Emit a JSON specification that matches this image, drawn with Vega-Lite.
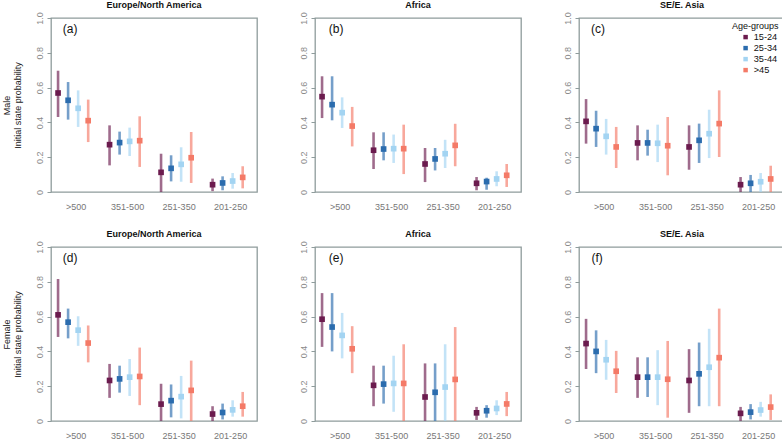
{
  "$schema": "https://vega.github.io/schema/vega-lite/v6.json",
  "padding": {"left": 1, "top": 0, "right": 0, "bottom": 0},
  "config": {
    "font": "Liberation Sans",
    "view": {"stroke": "#8f9c9c", "strokeWidth": 1.3},
    "title": {"fontSize": 9, "fontWeight": "bold", "color": "#111", "offset": 2},
    "axisY": {
      "values": [0, 0.2, 0.4, 0.6, 0.8, 1],
      "labelExpr": "datum.value == 0 ? '0' : format(datum.value, '.1f')",
      "labelAngle": -90, "labelAlign": "center", "labelBaseline": "bottom",
      "labelColor": "#8a8a8a", "labelFontSize": 9, "labelPadding": 3,
      "tickSize": 4, "tickColor": "#8f9c9c", "domain": false, "grid": false,
      "titleFontSize": 9, "titleFontWeight": "normal", "titleColor": "#222", "titlePadding": 13
    },
    "axisX": {
      "ticks": false, "tickSize": 0, "domain": false, "grid": false, "labelAngle": 0,
      "labelColor": "#777", "labelFontSize": 9, "labelPadding": 10, "labelOffset": 3, "title": null
    },
    "legend": {
      "orient": "none", "legendX": 681, "legendY": 4,
      "titleFontSize": 9, "titleFontWeight": "normal", "titleColor": "#111", "titlePadding": 1.5,
      "labelFontSize": 9.2, "labelColor": "#111", "symbolType": "square", "symbolSize": 20,
      "symbolOpacity": 1, "symbolStrokeWidth": 0, "rowPadding": 1, "labelOffset": 3.5, "symbolOffset": 9
    }
  },
  "datasets": {
    "est": [
      {"sex":"Male","region":"Europe/North America","cd4":">500","age":"15-24","p":0.569,"lo":0.431,"hi":0.697},
      {"sex":"Male","region":"Europe/North America","cd4":">500","age":"25-34","p":0.527,"lo":0.416,"hi":0.632},
      {"sex":"Male","region":"Europe/North America","cd4":">500","age":"35-44","p":0.481,"lo":0.374,"hi":0.584},
      {"sex":"Male","region":"Europe/North America","cd4":">500","age":">45","p":0.41,"lo":0.287,"hi":0.531},
      {"sex":"Male","region":"Europe/North America","cd4":"351-500","age":"15-24","p":0.272,"lo":0.153,"hi":0.383},
      {"sex":"Male","region":"Europe/North America","cd4":"351-500","age":"25-34","p":0.284,"lo":0.215,"hi":0.347},
      {"sex":"Male","region":"Europe/North America","cd4":"351-500","age":"35-44","p":0.291,"lo":0.207,"hi":0.37},
      {"sex":"Male","region":"Europe/North America","cd4":"351-500","age":">45","p":0.295,"lo":0.144,"hi":0.435},
      {"sex":"Male","region":"Europe/North America","cd4":"251-350","age":"15-24","p":0.113,"lo":0.0,"hi":0.22},
      {"sex":"Male","region":"Europe/North America","cd4":"251-350","age":"25-34","p":0.136,"lo":0.061,"hi":0.211},
      {"sex":"Male","region":"Europe/North America","cd4":"251-350","age":"35-44","p":0.159,"lo":0.059,"hi":0.257},
      {"sex":"Male","region":"Europe/North America","cd4":"251-350","age":">45","p":0.197,"lo":0.052,"hi":0.345},
      {"sex":"Male","region":"Europe/North America","cd4":"201-250","age":"15-24","p":0.042,"lo":0.005,"hi":0.077},
      {"sex":"Male","region":"Europe/North America","cd4":"201-250","age":"25-34","p":0.052,"lo":0.01,"hi":0.09},
      {"sex":"Male","region":"Europe/North America","cd4":"201-250","age":"35-44","p":0.063,"lo":0.019,"hi":0.109},
      {"sex":"Male","region":"Europe/North America","cd4":"201-250","age":">45","p":0.084,"lo":0.021,"hi":0.148},

      {"sex":"Male","region":"Africa","cd4":">500","age":"15-24","p":0.548,"lo":0.425,"hi":0.665},
      {"sex":"Male","region":"Africa","cd4":">500","age":"25-34","p":0.502,"lo":0.412,"hi":0.665},
      {"sex":"Male","region":"Africa","cd4":">500","age":"35-44","p":0.456,"lo":0.368,"hi":0.544},
      {"sex":"Male","region":"Africa","cd4":">500","age":">45","p":0.379,"lo":0.262,"hi":0.489},
      {"sex":"Male","region":"Africa","cd4":"351-500","age":"15-24","p":0.24,"lo":0.132,"hi":0.343},
      {"sex":"Male","region":"Africa","cd4":"351-500","age":"25-34","p":0.247,"lo":0.182,"hi":0.343},
      {"sex":"Male","region":"Africa","cd4":"351-500","age":"35-44","p":0.249,"lo":0.167,"hi":0.33},
      {"sex":"Male","region":"Africa","cd4":"351-500","age":">45","p":0.249,"lo":0.103,"hi":0.387},
      {"sex":"Male","region":"Africa","cd4":"251-350","age":"15-24","p":0.161,"lo":0.057,"hi":0.253},
      {"sex":"Male","region":"Africa","cd4":"251-350","age":"25-34","p":0.19,"lo":0.124,"hi":0.253},
      {"sex":"Male","region":"Africa","cd4":"251-350","age":"35-44","p":0.22,"lo":0.138,"hi":0.3},
      {"sex":"Male","region":"Africa","cd4":"251-350","age":">45","p":0.268,"lo":0.148,"hi":0.392},
      {"sex":"Male","region":"Africa","cd4":"201-250","age":"15-24","p":0.05,"lo":0.01,"hi":0.086},
      {"sex":"Male","region":"Africa","cd4":"201-250","age":"25-34","p":0.06,"lo":0.013,"hi":0.082},
      {"sex":"Male","region":"Africa","cd4":"201-250","age":"35-44","p":0.075,"lo":0.033,"hi":0.119},
      {"sex":"Male","region":"Africa","cd4":"201-250","age":">45","p":0.096,"lo":0.029,"hi":0.161},

      {"sex":"Male","region":"SE/E. Asia","cd4":">500","age":"15-24","p":0.406,"lo":0.278,"hi":0.534},
      {"sex":"Male","region":"SE/E. Asia","cd4":">500","age":"25-34","p":0.364,"lo":0.259,"hi":0.467},
      {"sex":"Male","region":"SE/E. Asia","cd4":">500","age":"35-44","p":0.32,"lo":0.215,"hi":0.42},
      {"sex":"Male","region":"SE/E. Asia","cd4":">500","age":">45","p":0.259,"lo":0.138,"hi":0.374},
      {"sex":"Male","region":"SE/E. Asia","cd4":"351-500","age":"15-24","p":0.282,"lo":0.182,"hi":0.383},
      {"sex":"Male","region":"SE/E. Asia","cd4":"351-500","age":"25-34","p":0.282,"lo":0.209,"hi":0.358},
      {"sex":"Male","region":"SE/E. Asia","cd4":"351-500","age":"35-44","p":0.28,"lo":0.172,"hi":0.387},
      {"sex":"Male","region":"SE/E. Asia","cd4":"351-500","age":">45","p":0.266,"lo":0.096,"hi":0.431},
      {"sex":"Male","region":"SE/E. Asia","cd4":"251-350","age":"15-24","p":0.259,"lo":0.128,"hi":0.383},
      {"sex":"Male","region":"SE/E. Asia","cd4":"251-350","age":"25-34","p":0.297,"lo":0.167,"hi":0.393},
      {"sex":"Male","region":"SE/E. Asia","cd4":"251-350","age":"35-44","p":0.335,"lo":0.195,"hi":0.473},
      {"sex":"Male","region":"SE/E. Asia","cd4":"251-350","age":">45","p":0.393,"lo":0.201,"hi":0.584},
      {"sex":"Male","region":"SE/E. Asia","cd4":"201-250","age":"15-24","p":0.042,"lo":0.0,"hi":0.086},
      {"sex":"Male","region":"SE/E. Asia","cd4":"201-250","age":"25-34","p":0.05,"lo":0.0,"hi":0.098},
      {"sex":"Male","region":"SE/E. Asia","cd4":"201-250","age":"35-44","p":0.059,"lo":0.0,"hi":0.109},
      {"sex":"Male","region":"SE/E. Asia","cd4":"201-250","age":">45","p":0.075,"lo":0.0,"hi":0.151},

      {"sex":"Female","region":"Europe/North America","cd4":">500","age":"15-24","p":0.61,"lo":0.483,"hi":0.816},
      {"sex":"Female","region":"Europe/North America","cd4":">500","age":"25-34","p":0.568,"lo":0.475,"hi":0.646},
      {"sex":"Female","region":"Europe/North America","cd4":">500","age":"35-44","p":0.522,"lo":0.432,"hi":0.602},
      {"sex":"Female","region":"Europe/North America","cd4":">500","age":">45","p":0.448,"lo":0.337,"hi":0.549},
      {"sex":"Female","region":"Europe/North America","cd4":"351-500","age":"15-24","p":0.233,"lo":0.133,"hi":0.328},
      {"sex":"Female","region":"Europe/North America","cd4":"351-500","age":"25-34","p":0.242,"lo":0.163,"hi":0.318},
      {"sex":"Female","region":"Europe/North America","cd4":"351-500","age":"35-44","p":0.252,"lo":0.144,"hi":0.356},
      {"sex":"Female","region":"Europe/North America","cd4":"351-500","age":">45","p":0.256,"lo":0.091,"hi":0.422},
      {"sex":"Female","region":"Europe/North America","cd4":"251-350","age":"15-24","p":0.097,"lo":0.0,"hi":0.214},
      {"sex":"Female","region":"Europe/North America","cd4":"251-350","age":"25-34","p":0.117,"lo":0.021,"hi":0.21},
      {"sex":"Female","region":"Europe/North America","cd4":"251-350","age":"35-44","p":0.14,"lo":0.015,"hi":0.259},
      {"sex":"Female","region":"Europe/North America","cd4":"251-350","age":">45","p":0.176,"lo":0.0,"hi":0.347},
      {"sex":"Female","region":"Europe/North America","cd4":"201-250","age":"15-24","p":0.04,"lo":0.0,"hi":0.085},
      {"sex":"Female","region":"Europe/North America","cd4":"201-250","age":"25-34","p":0.049,"lo":0.009,"hi":0.1},
      {"sex":"Female","region":"Europe/North America","cd4":"201-250","age":"35-44","p":0.064,"lo":0.025,"hi":0.119},
      {"sex":"Female","region":"Europe/North America","cd4":"201-250","age":">45","p":0.085,"lo":0.025,"hi":0.167},

      {"sex":"Female","region":"Africa","cd4":">500","age":"15-24","p":0.585,"lo":0.426,"hi":0.735},
      {"sex":"Female","region":"Africa","cd4":">500","age":"25-34","p":0.54,"lo":0.4,"hi":0.735},
      {"sex":"Female","region":"Africa","cd4":">500","age":"35-44","p":0.492,"lo":0.36,"hi":0.621},
      {"sex":"Female","region":"Africa","cd4":">500","age":">45","p":0.415,"lo":0.275,"hi":0.545},
      {"sex":"Female","region":"Africa","cd4":"351-500","age":"15-24","p":0.205,"lo":0.085,"hi":0.318},
      {"sex":"Female","region":"Africa","cd4":"351-500","age":"25-34","p":0.212,"lo":0.1,"hi":0.318},
      {"sex":"Female","region":"Africa","cd4":"351-500","age":"35-44","p":0.216,"lo":0.053,"hi":0.375},
      {"sex":"Female","region":"Africa","cd4":"351-500","age":">45","p":0.216,"lo":0.0,"hi":0.441},
      {"sex":"Female","region":"Africa","cd4":"251-350","age":"15-24","p":0.138,"lo":0.0,"hi":0.331},
      {"sex":"Female","region":"Africa","cd4":"251-350","age":"25-34","p":0.165,"lo":0.0,"hi":0.331},
      {"sex":"Female","region":"Africa","cd4":"251-350","age":"35-44","p":0.195,"lo":0.0,"hi":0.441},
      {"sex":"Female","region":"Africa","cd4":"251-350","age":">45","p":0.239,"lo":0.0,"hi":0.54},
      {"sex":"Female","region":"Africa","cd4":"201-250","age":"15-24","p":0.047,"lo":0.006,"hi":0.081},
      {"sex":"Female","region":"Africa","cd4":"201-250","age":"25-34","p":0.059,"lo":0.019,"hi":0.091},
      {"sex":"Female","region":"Africa","cd4":"201-250","age":"35-44","p":0.072,"lo":0.034,"hi":0.119},
      {"sex":"Female","region":"Africa","cd4":"201-250","age":">45","p":0.098,"lo":0.028,"hi":0.167},

      {"sex":"Female","region":"SE/E. Asia","cd4":">500","age":"15-24","p":0.445,"lo":0.299,"hi":0.587},
      {"sex":"Female","region":"SE/E. Asia","cd4":">500","age":"25-34","p":0.4,"lo":0.275,"hi":0.521},
      {"sex":"Female","region":"SE/E. Asia","cd4":">500","age":"35-44","p":0.352,"lo":0.237,"hi":0.466},
      {"sex":"Female","region":"SE/E. Asia","cd4":">500","age":">45","p":0.286,"lo":0.161,"hi":0.403},
      {"sex":"Female","region":"SE/E. Asia","cd4":"351-500","age":"15-24","p":0.252,"lo":0.133,"hi":0.366},
      {"sex":"Female","region":"SE/E. Asia","cd4":"351-500","age":"25-34","p":0.252,"lo":0.138,"hi":0.366},
      {"sex":"Female","region":"SE/E. Asia","cd4":"351-500","age":"35-44","p":0.252,"lo":0.091,"hi":0.407},
      {"sex":"Female","region":"SE/E. Asia","cd4":"351-500","age":">45","p":0.24,"lo":0.019,"hi":0.46},
      {"sex":"Female","region":"SE/E. Asia","cd4":"251-350","age":"15-24","p":0.233,"lo":0.047,"hi":0.413},
      {"sex":"Female","region":"SE/E. Asia","cd4":"251-350","age":"25-34","p":0.271,"lo":0.085,"hi":0.451},
      {"sex":"Female","region":"SE/E. Asia","cd4":"251-350","age":"35-44","p":0.309,"lo":0.085,"hi":0.53},
      {"sex":"Female","region":"SE/E. Asia","cd4":"251-350","age":">45","p":0.364,"lo":0.085,"hi":0.646},
      {"sex":"Female","region":"SE/E. Asia","cd4":"201-250","age":"15-24","p":0.044,"lo":0.0,"hi":0.081},
      {"sex":"Female","region":"SE/E. Asia","cd4":"201-250","age":"25-34","p":0.051,"lo":0.009,"hi":0.097},
      {"sex":"Female","region":"SE/E. Asia","cd4":"201-250","age":"35-44","p":0.063,"lo":0.025,"hi":0.11},
      {"sex":"Female","region":"SE/E. Asia","cd4":"201-250","age":">45","p":0.08,"lo":0.006,"hi":0.153}
    ],
    "panels": [
      {"sex":"Male","region":"Europe/North America","label":"(a)"},
      {"sex":"Male","region":"Africa","label":"(b)"},
      {"sex":"Male","region":"SE/E. Asia","label":"(c)"},
      {"sex":"Female","region":"Europe/North America","label":"(d)"},
      {"sex":"Female","region":"Africa","label":"(e)"},
      {"sex":"Female","region":"SE/E. Asia","label":"(f)"}
    ]
  },
  "spacing": 17,
  "vconcat": [
    {
      "spacing": 40,
      "hconcat": [
        {
          "width": 206, "height": 174, "title": "Europe/North America",
          "layer": [
            {"data": {"name": "est"}, "transform": [{"filter": "datum.sex == 'Male' && datum.region == 'Europe/North America'"}],
             "mark": {"type": "rule", "strokeWidth": 2.6, "opacity": 0.65},
             "encoding": {
               "x": {"field": "cd4", "type": "nominal", "sort": [">500","351-500","251-350","201-250"], "scale": {"paddingInner": 0.22, "paddingOuter": 0.11, "align": 0.18}},
               "xOffset": {"field": "age", "type": "nominal", "sort": ["15-24","25-34","35-44",">45"], "scale": {"paddingInner": 0, "paddingOuter": 0}},
               "y": {"field": "lo", "type": "quantitative", "scale": {"domain": [0, 1], "nice": false, "zero": false}, "title": ["Male", "Initial state probability"]},
               "y2": {"field": "hi"},
               "color": {"field": "age", "type": "nominal", "sort": ["15-24","25-34","35-44",">45"], "scale": {"domain": ["15-24","25-34","35-44",">45"], "range": ["#6b1b4e","#2b6cae","#a3d4f2","#f47a67"]}, "title": "Age-groups"}
             }},
            {"data": {"name": "est"}, "transform": [{"filter": "datum.sex == 'Male' && datum.region == 'Europe/North America'"}],
             "mark": {"type": "point", "shape": "square", "filled": true, "size": 32, "opacity": 1},
             "encoding": {
               "x": {"field": "cd4", "type": "nominal", "sort": [">500","351-500","251-350","201-250"]},
               "xOffset": {"field": "age", "type": "nominal", "sort": ["15-24","25-34","35-44",">45"]},
               "y": {"field": "p", "type": "quantitative"},
               "color": {"field": "age", "type": "nominal"}
             }},
            {"data": {"name": "panels"}, "transform": [{"filter": "datum.sex == 'Male' && datum.region == 'Europe/North America'"}],
             "mark": {"type": "text", "fontSize": 12, "color": "#111", "dx": -3},
             "encoding": {"x": {"datum": ">500"}, "y": {"datum": 0.935}, "text": {"field": "label"}}}
          ]
        },
        {
          "width": 206, "height": 174, "title": "Africa",
          "layer": [
            {"data": {"name": "est"}, "transform": [{"filter": "datum.sex == 'Male' && datum.region == 'Africa'"}],
             "mark": {"type": "rule", "strokeWidth": 2.6, "opacity": 0.65},
             "encoding": {
               "x": {"field": "cd4", "type": "nominal", "sort": [">500","351-500","251-350","201-250"], "scale": {"paddingInner": 0.22, "paddingOuter": 0.11, "align": 0.18}},
               "xOffset": {"field": "age", "type": "nominal", "sort": ["15-24","25-34","35-44",">45"], "scale": {"paddingInner": 0, "paddingOuter": 0}},
               "y": {"field": "lo", "type": "quantitative", "scale": {"domain": [0, 1], "nice": false, "zero": false}, "title": null},
               "y2": {"field": "hi"},
               "color": {"field": "age", "type": "nominal", "sort": ["15-24","25-34","35-44",">45"], "title": "Age-groups"}
             }},
            {"data": {"name": "est"}, "transform": [{"filter": "datum.sex == 'Male' && datum.region == 'Africa'"}],
             "mark": {"type": "point", "shape": "square", "filled": true, "size": 32, "opacity": 1},
             "encoding": {
               "x": {"field": "cd4", "type": "nominal", "sort": [">500","351-500","251-350","201-250"]},
               "xOffset": {"field": "age", "type": "nominal", "sort": ["15-24","25-34","35-44",">45"]},
               "y": {"field": "p", "type": "quantitative"},
               "color": {"field": "age", "type": "nominal"}
             }},
            {"data": {"name": "panels"}, "transform": [{"filter": "datum.sex == 'Male' && datum.region == 'Africa'"}],
             "mark": {"type": "text", "fontSize": 12, "color": "#111", "dx": -1},
             "encoding": {"x": {"datum": ">500"}, "y": {"datum": 0.935}, "text": {"field": "label"}}}
          ]
        },
        {
          "width": 206, "height": 174, "title": "SE/E. Asia",
          "layer": [
            {"data": {"name": "est"}, "transform": [{"filter": "datum.sex == 'Male' && datum.region == 'SE/E. Asia'"}],
             "mark": {"type": "rule", "strokeWidth": 2.6, "opacity": 0.65},
             "encoding": {
               "x": {"field": "cd4", "type": "nominal", "sort": [">500","351-500","251-350","201-250"], "scale": {"paddingInner": 0.22, "paddingOuter": 0.11, "align": 0.18}},
               "xOffset": {"field": "age", "type": "nominal", "sort": ["15-24","25-34","35-44",">45"], "scale": {"paddingInner": 0, "paddingOuter": 0}},
               "y": {"field": "lo", "type": "quantitative", "scale": {"domain": [0, 1], "nice": false, "zero": false}, "title": null},
               "y2": {"field": "hi"},
               "color": {"field": "age", "type": "nominal", "sort": ["15-24","25-34","35-44",">45"], "title": "Age-groups"}
             }},
            {"data": {"name": "est"}, "transform": [{"filter": "datum.sex == 'Male' && datum.region == 'SE/E. Asia'"}],
             "mark": {"type": "point", "shape": "square", "filled": true, "size": 32, "opacity": 1},
             "encoding": {
               "x": {"field": "cd4", "type": "nominal", "sort": [">500","351-500","251-350","201-250"]},
               "xOffset": {"field": "age", "type": "nominal", "sort": ["15-24","25-34","35-44",">45"]},
               "y": {"field": "p", "type": "quantitative"},
               "color": {"field": "age", "type": "nominal"}
             }},
            {"data": {"name": "panels"}, "transform": [{"filter": "datum.sex == 'Male' && datum.region == 'SE/E. Asia'"}],
             "mark": {"type": "text", "fontSize": 12, "color": "#111", "dx": -3},
             "encoding": {"x": {"datum": ">500"}, "y": {"datum": 0.935}, "text": {"field": "label"}}}
          ]
        }
      ]
    },
    {
      "spacing": 40,
      "hconcat": [
        {
          "width": 206, "height": 174, "title": "Europe/North America",
          "layer": [
            {"data": {"name": "est"}, "transform": [{"filter": "datum.sex == 'Female' && datum.region == 'Europe/North America'"}],
             "mark": {"type": "rule", "strokeWidth": 2.6, "opacity": 0.65},
             "encoding": {
               "x": {"field": "cd4", "type": "nominal", "sort": [">500","351-500","251-350","201-250"], "scale": {"paddingInner": 0.22, "paddingOuter": 0.11, "align": 0.18}},
               "xOffset": {"field": "age", "type": "nominal", "sort": ["15-24","25-34","35-44",">45"], "scale": {"paddingInner": 0, "paddingOuter": 0}},
               "y": {"field": "lo", "type": "quantitative", "scale": {"domain": [0, 1], "nice": false, "zero": false}, "title": ["Female", "Initial state probability"]},
               "y2": {"field": "hi"},
               "color": {"field": "age", "type": "nominal", "sort": ["15-24","25-34","35-44",">45"], "title": "Age-groups"}
             }},
            {"data": {"name": "est"}, "transform": [{"filter": "datum.sex == 'Female' && datum.region == 'Europe/North America'"}],
             "mark": {"type": "point", "shape": "square", "filled": true, "size": 32, "opacity": 1},
             "encoding": {
               "x": {"field": "cd4", "type": "nominal", "sort": [">500","351-500","251-350","201-250"]},
               "xOffset": {"field": "age", "type": "nominal", "sort": ["15-24","25-34","35-44",">45"]},
               "y": {"field": "p", "type": "quantitative"},
               "color": {"field": "age", "type": "nominal"}
             }},
            {"data": {"name": "panels"}, "transform": [{"filter": "datum.sex == 'Female' && datum.region == 'Europe/North America'"}],
             "mark": {"type": "text", "fontSize": 12, "color": "#111", "dx": -3},
             "encoding": {"x": {"datum": ">500"}, "y": {"datum": 0.935}, "text": {"field": "label"}}}
          ]
        },
        {
          "width": 206, "height": 174, "title": "Africa",
          "layer": [
            {"data": {"name": "est"}, "transform": [{"filter": "datum.sex == 'Female' && datum.region == 'Africa'"}],
             "mark": {"type": "rule", "strokeWidth": 2.6, "opacity": 0.65},
             "encoding": {
               "x": {"field": "cd4", "type": "nominal", "sort": [">500","351-500","251-350","201-250"], "scale": {"paddingInner": 0.22, "paddingOuter": 0.11, "align": 0.18}},
               "xOffset": {"field": "age", "type": "nominal", "sort": ["15-24","25-34","35-44",">45"], "scale": {"paddingInner": 0, "paddingOuter": 0}},
               "y": {"field": "lo", "type": "quantitative", "scale": {"domain": [0, 1], "nice": false, "zero": false}, "title": null},
               "y2": {"field": "hi"},
               "color": {"field": "age", "type": "nominal", "sort": ["15-24","25-34","35-44",">45"], "title": "Age-groups"}
             }},
            {"data": {"name": "est"}, "transform": [{"filter": "datum.sex == 'Female' && datum.region == 'Africa'"}],
             "mark": {"type": "point", "shape": "square", "filled": true, "size": 32, "opacity": 1},
             "encoding": {
               "x": {"field": "cd4", "type": "nominal", "sort": [">500","351-500","251-350","201-250"]},
               "xOffset": {"field": "age", "type": "nominal", "sort": ["15-24","25-34","35-44",">45"]},
               "y": {"field": "p", "type": "quantitative"},
               "color": {"field": "age", "type": "nominal"}
             }},
            {"data": {"name": "panels"}, "transform": [{"filter": "datum.sex == 'Female' && datum.region == 'Africa'"}],
             "mark": {"type": "text", "fontSize": 12, "color": "#111", "dx": -1},
             "encoding": {"x": {"datum": ">500"}, "y": {"datum": 0.935}, "text": {"field": "label"}}}
          ]
        },
        {
          "width": 206, "height": 174, "title": "SE/E. Asia",
          "layer": [
            {"data": {"name": "est"}, "transform": [{"filter": "datum.sex == 'Female' && datum.region == 'SE/E. Asia'"}],
             "mark": {"type": "rule", "strokeWidth": 2.6, "opacity": 0.65},
             "encoding": {
               "x": {"field": "cd4", "type": "nominal", "sort": [">500","351-500","251-350","201-250"], "scale": {"paddingInner": 0.22, "paddingOuter": 0.11, "align": 0.18}},
               "xOffset": {"field": "age", "type": "nominal", "sort": ["15-24","25-34","35-44",">45"], "scale": {"paddingInner": 0, "paddingOuter": 0}},
               "y": {"field": "lo", "type": "quantitative", "scale": {"domain": [0, 1], "nice": false, "zero": false}, "title": null},
               "y2": {"field": "hi"},
               "color": {"field": "age", "type": "nominal", "sort": ["15-24","25-34","35-44",">45"], "title": "Age-groups"}
             }},
            {"data": {"name": "est"}, "transform": [{"filter": "datum.sex == 'Female' && datum.region == 'SE/E. Asia'"}],
             "mark": {"type": "point", "shape": "square", "filled": true, "size": 32, "opacity": 1},
             "encoding": {
               "x": {"field": "cd4", "type": "nominal", "sort": [">500","351-500","251-350","201-250"]},
               "xOffset": {"field": "age", "type": "nominal", "sort": ["15-24","25-34","35-44",">45"]},
               "y": {"field": "p", "type": "quantitative"},
               "color": {"field": "age", "type": "nominal"}
             }},
            {"data": {"name": "panels"}, "transform": [{"filter": "datum.sex == 'Female' && datum.region == 'SE/E. Asia'"}],
             "mark": {"type": "text", "fontSize": 12, "color": "#111", "dx": -4},
             "encoding": {"x": {"datum": ">500"}, "y": {"datum": 0.935}, "text": {"field": "label"}}}
          ]
        }
      ]
    }
  ]
}
